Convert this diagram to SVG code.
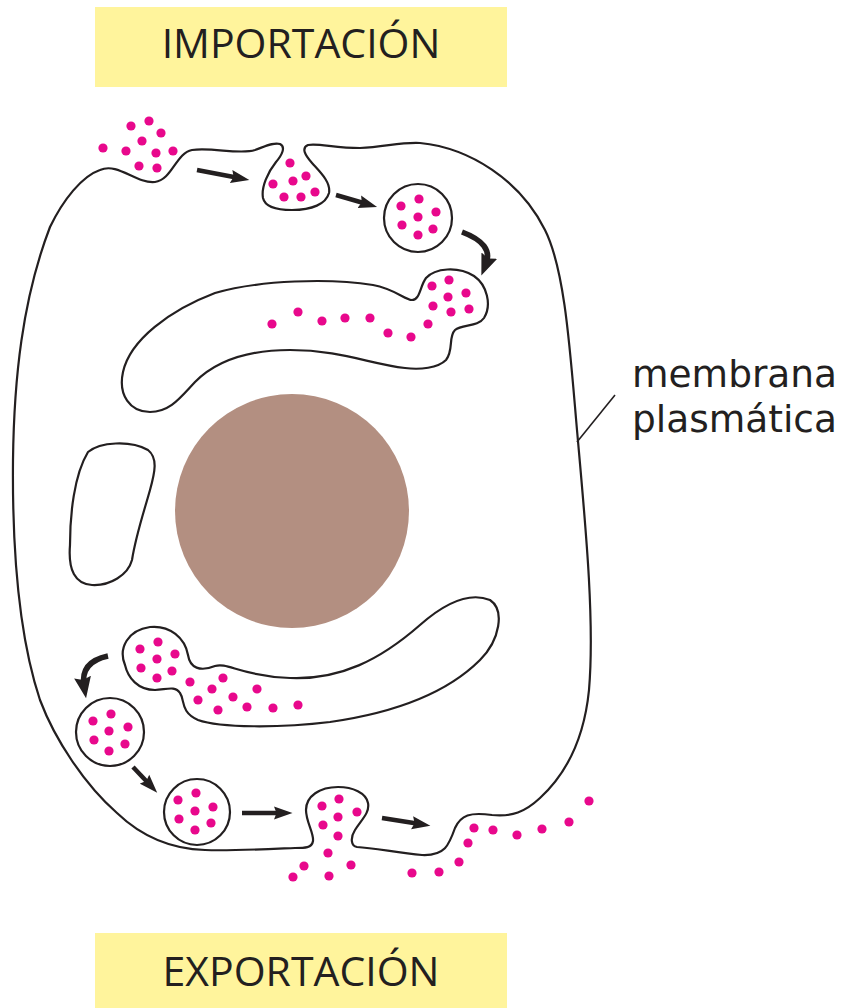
<svg xmlns="http://www.w3.org/2000/svg" width="844" height="1008" viewBox="0 0 844 1008">
  <defs>
    <style>
      .mem { fill: #ffffff; stroke: #231f20; stroke-width: 2.2; stroke-linejoin: round; }
      .org { fill: none; stroke: #231f20; stroke-width: 2.2; stroke-linejoin: round; }
      .cargo circle { fill: #e8088c; }
      .flow { fill: none; stroke: #231f20; stroke-width: 4.5; marker-end: url(#head); }
      .flow.curved { stroke-width: 5.5; marker-end: url(#head-big); }
      .banner { fill: #fff49c; }
      .title { font-family: "Open Sans", "Noto Sans", sans-serif; font-size: 41px; fill: #231f20; text-anchor: middle; }
      .label { font-family: "DejaVu Sans", "Open Sans", sans-serif; font-size: 37.5px; fill: #231f20; }
      .leader { stroke: #231f20; stroke-width: 1.6; fill: none; }
    </style>
    <marker id="head" markerUnits="userSpaceOnUse" markerWidth="19" markerHeight="14" refX="8" refY="7" orient="auto" viewBox="0 0 19 14">
      <path d="M0,0.5 L18.5,7 L0,13.5 L2.5,7 Z" fill="#231f20"/>
    </marker>
    <marker id="head-big" markerUnits="userSpaceOnUse" markerWidth="22" markerHeight="18" refX="9" refY="9" orient="auto" viewBox="0 0 22 18">
      <path d="M0,0.5 L21.5,9 L0,17.5 L3,9 Z" fill="#231f20"/>
    </marker>
  </defs>

  <!-- banners -->
  <g id="import-banner">
    <rect class="banner" x="95" y="7" width="412" height="80"/>
    <text class="title" x="301" y="58">IMPORTACIÓN</text>
  </g>
  <g id="export-banner">
    <rect class="banner" x="95" y="933" width="412" height="75"/>
    <text class="title" x="301" y="986">EXPORTACIÓN</text>
  </g>

  <!-- plasma membrane with the endocytic pit (top) and exocytic bud (bottom) -->
  <g id="cell">
    <path class="mem" d="M 100,170
      C 118,162 136,184 155,182
      C 172,180 176,153 192,150
      C 212,147 240,155 255,150
      C 266,146 274,142 280,144
      C 286,147 282,155 276,162
      C 268,172 261,187 263,198
      C 265,207 278,210 292,210
      C 312,210 326,204 329,193
      C 331,182 320,172 312,163
      C 305,155 301,148 308,145
      C 318,143 335,148 360,148
      C 385,147 400,142 420,143
      C 470,148 520,180 545,230
      C 565,270 570,350 577,430
      C 585,520 595,620 589,690
      C 584,740 565,775 540,798
      C 525,812 512,817 492,815
      C 470,812 461,815 455,828
      C 449,845 445,856 422,855
      C 398,853 375,848 357,847
      C 351,846 350,838 355,830
      C 361,820 370,813 368,803
      C 366,793 353,787 338,787
      C 320,787 306,796 306,810
      C 306,822 314,833 313,841
      C 312,848 305,848 295,848
      C 270,849 230,851 205,850
      C 170,849 140,835 117,813
      C 85,785 55,740 40,700
      C 20,640 12,560 13,460
      C 14,380 22,300 50,227
      C 63,200 82,176 100,170 Z"/>
  </g>

  <!-- nucleus -->
  <g id="nucleus">
    <circle cx="292" cy="511" r="117" fill="#b38f81"/>
  </g>

  <!-- organelles -->
  <g id="upper-compartment">
    <path class="org" d="M 123,372
      C 130,340 170,310 215,293
      C 260,280 330,278 373,285
      C 395,289 405,300 412,300
      C 420,300 420,286 426,278
      C 435,268 458,266 474,276
      C 487,285 492,305 484,318
      C 478,327 462,324 455,330
      C 448,337 454,350 446,360
      C 438,368 420,370 405,368
      C 370,364 340,350 290,350
      C 245,350 215,362 195,382
      C 180,398 170,412 150,412
      C 130,412 118,395 123,372 Z"/>
  </g>
  <g id="small-compartment">
    <path class="org" d="M 88,452
      C 100,442 130,440 148,450
      C 158,458 155,472 150,490
      C 143,515 136,535 132,560
      C 128,575 110,586 92,585
      C 75,584 68,570 70,545
      C 70,515 74,475 88,452 Z"/>
  </g>
  <g id="lower-compartment">
    <path class="org" d="M 125,665
      C 118,648 128,630 150,627
      C 170,625 185,638 188,655
      C 190,668 200,672 215,666
      C 228,662 240,676 290,678
      C 340,680 380,660 420,625
      C 445,603 470,592 490,600
      C 505,610 500,640 480,660
      C 450,690 400,712 330,722
      C 280,728 220,728 198,720
      C 180,712 185,700 180,693
      C 175,685 165,690 155,690
      C 138,690 128,678 125,665 Z"/>
  </g>

  <!-- vesicles -->
  <g id="vesicle-in">
    <circle class="org" cx="418" cy="218" r="34"/>
  </g>
  <g id="vesicle-out-1">
    <circle class="org" cx="110" cy="732" r="34"/>
  </g>
  <g id="vesicle-out-2">
    <circle class="org" cx="197" cy="812" r="33"/>
  </g>

  <!-- cargo particles -->
  <g id="cargo" class="cargo">
    <!-- outside, entering -->
    <circle cx="103" cy="148" r="4.6"/><circle cx="131" cy="126" r="4.6"/><circle cx="149" cy="121" r="4.6"/>
    <circle cx="161" cy="133" r="4.6"/><circle cx="142" cy="141" r="4.6"/><circle cx="126" cy="151" r="4.6"/>
    <circle cx="156" cy="153" r="4.6"/><circle cx="173" cy="151" r="4.6"/><circle cx="139" cy="166" r="4.6"/>
    <circle cx="157" cy="168" r="4.6"/>
    <!-- pit -->
    <circle cx="290" cy="163" r="4.6"/><circle cx="273" cy="184" r="4.6"/><circle cx="293" cy="181" r="4.6"/>
    <circle cx="306" cy="176" r="4.6"/><circle cx="284" cy="197" r="4.6"/><circle cx="301" cy="197" r="4.6"/>
    <circle cx="315" cy="192" r="4.6"/>
    <!-- incoming vesicle -->
    <circle cx="401" cy="206" r="4.6"/><circle cx="419" cy="199" r="4.6"/><circle cx="436" cy="212" r="4.6"/>
    <circle cx="418" cy="217" r="4.6"/><circle cx="402" cy="225" r="4.6"/><circle cx="433" cy="229" r="4.6"/>
    <circle cx="418" cy="235" r="4.6"/>
    <!-- upper compartment -->
    <circle cx="272" cy="324" r="4.6"/><circle cx="298" cy="312" r="4.6"/><circle cx="322" cy="321" r="4.6"/>
    <circle cx="345" cy="318" r="4.6"/><circle cx="370" cy="318" r="4.6"/><circle cx="388" cy="333" r="4.6"/>
    <circle cx="411" cy="337" r="4.6"/><circle cx="428" cy="324" r="4.6"/><circle cx="433" cy="306" r="4.6"/>
    <circle cx="432" cy="286" r="4.6"/><circle cx="449" cy="280" r="4.6"/><circle cx="448" cy="297" r="4.6"/>
    <circle cx="466" cy="293" r="4.6"/><circle cx="451" cy="312" r="4.6"/><circle cx="469" cy="309" r="4.6"/>
    <!-- lower compartment -->
    <circle cx="140" cy="649" r="4.6"/><circle cx="158" cy="642" r="4.6"/><circle cx="175" cy="654" r="4.6"/>
    <circle cx="157" cy="659" r="4.6"/><circle cx="141" cy="668" r="4.6"/><circle cx="172" cy="671" r="4.6"/>
    <circle cx="157" cy="678" r="4.6"/><circle cx="190" cy="682" r="4.6"/><circle cx="223" cy="678" r="4.6"/>
    <circle cx="212" cy="689" r="4.6"/><circle cx="198" cy="700" r="4.6"/><circle cx="233" cy="697" r="4.6"/>
    <circle cx="257" cy="689" r="4.6"/><circle cx="218" cy="710" r="4.6"/><circle cx="247" cy="707" r="4.6"/>
    <circle cx="273" cy="708" r="4.6"/><circle cx="298" cy="705" r="4.6"/>
    <!-- outgoing vesicle 1 -->
    <circle cx="93" cy="721" r="4.6"/><circle cx="111" cy="714" r="4.6"/><circle cx="128" cy="727" r="4.6"/>
    <circle cx="109" cy="731" r="4.6"/><circle cx="94" cy="740" r="4.6"/><circle cx="125" cy="744" r="4.6"/>
    <circle cx="109" cy="751" r="4.6"/>
    <!-- outgoing vesicle 2 -->
    <circle cx="178" cy="800" r="4.6"/><circle cx="196" cy="793" r="4.6"/><circle cx="213" cy="807" r="4.6"/>
    <circle cx="195" cy="811" r="4.6"/><circle cx="179" cy="819" r="4.6"/><circle cx="211" cy="823" r="4.6"/>
    <circle cx="195" cy="830" r="4.6"/>
    <!-- fusing bud and release -->
    <circle cx="322" cy="806" r="4.6"/><circle cx="339" cy="799" r="4.6"/><circle cx="357" cy="812" r="4.6"/>
    <circle cx="338" cy="817" r="4.6"/><circle cx="323" cy="825" r="4.6"/><circle cx="338" cy="836" r="4.6"/>
    <circle cx="328" cy="853" r="4.6"/><circle cx="304" cy="866" r="4.6"/><circle cx="351" cy="865" r="4.6"/>
    <circle cx="293" cy="877" r="4.6"/><circle cx="329" cy="876" r="4.6"/>
    <!-- outside, dispersing -->
    <circle cx="412" cy="873" r="4.6"/><circle cx="439" cy="872" r="4.6"/><circle cx="459" cy="862" r="4.6"/>
    <circle cx="468" cy="843" r="4.6"/><circle cx="474" cy="828" r="4.6"/><circle cx="493" cy="830" r="4.6"/>
    <circle cx="517" cy="835" r="4.6"/><circle cx="542" cy="829" r="4.6"/><circle cx="569" cy="822" r="4.6"/>
    <circle cx="589" cy="801" r="4.6"/>
  </g>

  <!-- transport arrows -->
  <g id="connectors">
    <path class="flow" d="M 197,170 L 239,178"/>
    <path class="flow" d="M 336,195 L 367,204"/>
    <path class="flow curved" d="M 462,232 Q 494,244 486,264"/>
    <path class="flow curved" d="M 108,656 Q 80,662 84,686"/>
    <path class="flow" d="M 133,767 L 150,785"/>
    <path class="flow" d="M 242,813 L 282,813"/>
    <path class="flow" d="M 382,818 L 420,824"/>
  </g>

  <!-- membrane label -->
  <g id="membrane-label">
    <path class="leader" d="M 577,442 L 615,395"/>
    <text class="label" x="632" y="387">membrana</text>
    <text class="label" x="632" y="432">plasmática</text>
  </g>
</svg>
